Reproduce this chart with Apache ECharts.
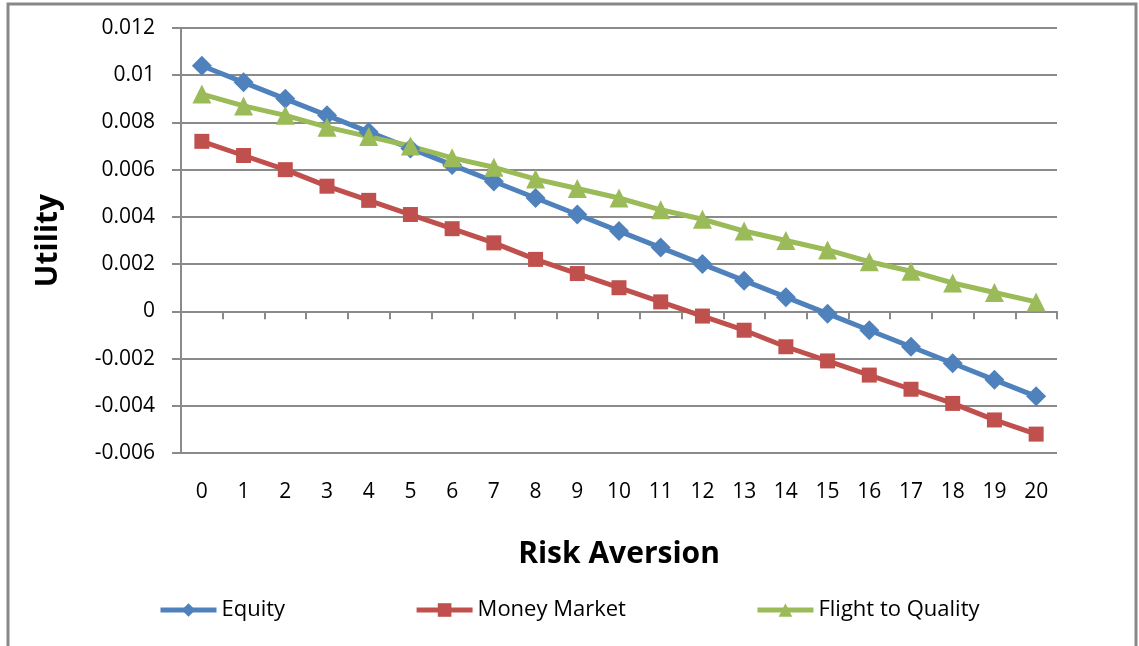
<!DOCTYPE html>
<html>
<head>
<meta charset="utf-8">
<script src="https://cdn.jsdelivr.net/npm/echarts@6/dist/echarts.min.js"></script>
<style>
  html, body { margin: 0; padding: 0; background: #fff; }
  #chart { width: 1139px; height: 646px; }
</style>
</head>
<body>
<div id="chart"></div>
<script>
// Risk aversion levels on the x axis
var riskAversion = ['0','1','2','3','4','5','6','7','8','9','10','11','12','13','14','15','16','17','18','19','20'];

// Utility of each portfolio at each risk aversion level
var equity = [0.0104, 0.0097, 0.0090, 0.0083, 0.0076, 0.0069, 0.0062, 0.0055, 0.0048, 0.0041, 0.0034,
              0.0027, 0.0020, 0.0013, 0.0006, -0.0001, -0.0008, -0.0015, -0.0022, -0.0029, -0.0036];
var moneyMarket = [0.0072, 0.0066, 0.0060, 0.0053, 0.0047, 0.0041, 0.0035, 0.0029, 0.0022, 0.0016, 0.0010,
                   0.0004, -0.0002, -0.0008, -0.0015, -0.0021, -0.0027, -0.0033, -0.0039, -0.0046, -0.0052];
var flightToQuality = [0.0092, 0.0087, 0.0083, 0.0078, 0.0074, 0.0070, 0.0065, 0.0061, 0.0056, 0.0052, 0.0048,
                       0.0043, 0.0039, 0.0034, 0.0030, 0.0026, 0.0021, 0.0017, 0.0012, 0.0008, 0.0004];

// Utility axis range
var yMin = -0.006, yMax = 0.012, yStep = 0.002;

var FONT = '"Open Sans", Lato, sans-serif';
var GRID_GRAY = '#8a8a8a';

var chart = echarts.init(document.getElementById('chart'), null, { renderer: 'canvas' });

function makeSeries(name, data, color, symbol, size) {
  return {
    name: name,
    type: 'line',
    xAxisIndex: 0,
    data: data,
    symbol: symbol,
    symbolSize: size,
    showAllSymbol: true,
    lineStyle: { color: color, width: 5 },
    itemStyle: { color: color },
    emphasis: { disabled: true },
    animation: false
  };
}

chart.setOption({
  backgroundColor: '#ffffff',
  animation: false,
  graphic: [{
    type: 'rect',
    shape: { x: 8, y: 4, width: 1128, height: 700 },
    style: { fill: 'none', stroke: '#888888', lineWidth: 3 },
    silent: true
  }],
  grid: { left: 181, right: 82, top: 28, bottom: 193, containLabel: false },
  legend: {
    left: 153,
    top: 594,
    itemWidth: 56,
    itemHeight: 17,
    itemGap: 129,
    lineStyle: { width: 5 },
    textStyle: { fontFamily: FONT, fontSize: 22, color: '#000' },
    data: ['Equity', 'Money Market', 'Flight to Quality']
  },
  xAxis: [{
    type: 'category',
    data: riskAversion,
    boundaryGap: true,
    position: 'bottom',
    axisLine: { onZero: true, lineStyle: { color: GRID_GRAY, width: 2 } },
    axisTick: { show: true, alignWithLabel: false, length: 8, lineStyle: { color: GRID_GRAY, width: 2 } },
    axisLabel: { show: false },
    splitLine: { show: false }
  }, {
    type: 'category',
    data: riskAversion,
    boundaryGap: true,
    position: 'bottom',
    axisLine: { show: false, onZero: false },
    axisTick: { show: false },
    axisLabel: { show: true, margin: 29, fontFamily: FONT, fontSize: 21, color: '#000', interval: 0 },
    splitLine: { show: false },
    name: 'Risk Aversion',
    nameLocation: 'middle',
    nameGap: 86,
    nameTextStyle: { fontFamily: FONT, fontSize: 30, fontWeight: 'bold', color: '#000' }
  }],
  yAxis: {
    type: 'value',
    min: yMin,
    max: yMax,
    interval: yStep,
    axisLine: { show: true, lineStyle: { color: GRID_GRAY, width: 2 } },
    axisTick: { show: true, inside: false, length: 9, lineStyle: { color: GRID_GRAY, width: 2 } },
    axisLabel: {
      margin: 26,
      fontFamily: FONT, fontSize: 21, color: '#000',
      formatter: function (v) { return String(parseFloat(v.toFixed(3))); }
    },
    splitLine: { show: true, lineStyle: { color: GRID_GRAY, width: 2 } },
    name: 'Utility',
    nameLocation: 'middle',
    nameGap: 118,
    nameRotate: 90,
    nameTextStyle: { fontFamily: FONT, fontSize: 30, fontWeight: 'bold', color: '#000' }
  },
  series: [
    makeSeries('Equity', equity, '#4F81BD', 'diamond', 20),
    makeSeries('Money Market', moneyMarket, '#C0504D', 'rect', 15),
    makeSeries('Flight to Quality', flightToQuality, '#9BBB59', 'triangle', 19)
  ]
});
</script>
</body>
</html>
